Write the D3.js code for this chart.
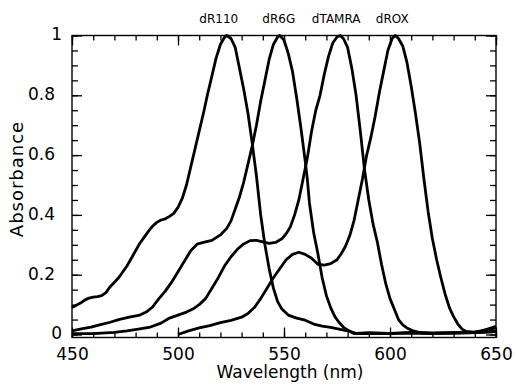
<!DOCTYPE html>
<html>
<head>
<meta charset="utf-8">
<script src="https://cdn.jsdelivr.net/npm/d3@7"></script>
<style>
  body { margin: 0; background: #fff; }
  svg { display: block; }
  text { font-family: "DejaVu Sans", sans-serif; fill: #000; }
</style>
</head>
<body>
<div id="chart"></div>
<script>
// absorbance spectra, [wavelength nm, normalised absorbance]
const dR110 = [
  [450, 0.09], [452, 0.098], [454, 0.105], [456, 0.115], [458, 0.122], [460, 0.125],
  [462, 0.127], [464, 0.13], [466, 0.14], [468, 0.16], [470, 0.175], [472, 0.19],
  [474, 0.21], [476, 0.23], [478, 0.255], [480, 0.28], [482, 0.305], [484, 0.325],
  [486, 0.345], [488, 0.362], [490, 0.375], [492, 0.383], [494, 0.387], [496, 0.395],
  [498, 0.405], [500, 0.425], [502, 0.455], [504, 0.5], [506, 0.56], [508, 0.62],
  [510, 0.68], [512, 0.74], [514, 0.805], [516, 0.865], [518, 0.925], [520, 0.97],
  [522, 0.995], [523, 1.0], [525, 0.99], [527, 0.96], [529, 0.89], [531, 0.82],
  [533, 0.74], [535, 0.64], [537, 0.53], [539, 0.4], [541, 0.3], [543, 0.22],
  [545, 0.155], [547, 0.11], [549, 0.085], [552, 0.065], [556, 0.055], [560, 0.048],
  [564, 0.035], [568, 0.028], [572, 0.024], [576, 0.018], [580, 0.012], [584, 0.004],
  [590, 0.006], [600, 0.004], [610, 0.007], [620, 0.005], [630, 0.006], [640, 0.008],
  [645, 0.014], [650, 0.022]
];
const dR6G = [
  [450, 0.012], [455, 0.02], [459, 0.025], [463, 0.032], [468, 0.041], [472, 0.05],
  [477, 0.058], [482, 0.065], [485, 0.075], [488, 0.092], [491, 0.12], [494, 0.145],
  [497, 0.175], [500, 0.21], [503, 0.245], [506, 0.28], [509, 0.302], [512, 0.308],
  [516, 0.315], [520, 0.333], [523, 0.355], [525, 0.38], [527, 0.42], [529, 0.46],
  [531, 0.51], [533, 0.57], [535, 0.63], [537, 0.7], [539, 0.78], [541, 0.85],
  [543, 0.92], [545, 0.97], [547, 0.995], [548, 1.0], [550, 0.985], [552, 0.94],
  [554, 0.88], [556, 0.79], [558, 0.69], [560, 0.58], [561, 0.52], [562, 0.44],
  [564, 0.34], [566, 0.27], [568, 0.19], [570, 0.13], [572, 0.09], [574, 0.06],
  [576, 0.04], [578, 0.025], [580, 0.015], [583, 0.003], [590, 0.004], [600, 0.003],
  [610, 0.005], [620, 0.004], [630, 0.005], [640, 0.006], [650, 0.01]
];
const dTAMRA = [
  [450, 0.003], [460, 0.003], [470, 0.007], [476, 0.012], [482, 0.019], [487, 0.025],
  [492, 0.038], [496, 0.055], [500, 0.065], [504, 0.075], [507, 0.085], [510, 0.1],
  [513, 0.12], [516, 0.155], [519, 0.19], [522, 0.23], [525, 0.26], [528, 0.285],
  [531, 0.303], [534, 0.314], [537, 0.315], [540, 0.31], [543, 0.305], [546, 0.308],
  [549, 0.32], [551, 0.337], [553, 0.36], [555, 0.4], [557, 0.45], [559, 0.52],
  [561, 0.59], [563, 0.68], [565, 0.75], [567, 0.8], [569, 0.87], [571, 0.93],
  [573, 0.975], [575, 0.995], [576.5, 1.0], [578, 0.99], [580, 0.96], [582, 0.89],
  [584, 0.8], [586, 0.68], [588, 0.55], [590, 0.45], [592, 0.37], [594, 0.31],
  [596, 0.235], [598, 0.17], [600, 0.12], [602, 0.085], [604, 0.05], [606, 0.032],
  [608, 0.022], [611, 0.012], [615, 0.005], [620, 0.004], [630, 0.005], [640, 0.006],
  [650, 0.01]
];
const dROX = [
  [500, 0.0], [505, 0.012], [510, 0.022], [515, 0.03], [520, 0.04], [525, 0.047],
  [530, 0.058], [533, 0.07], [536, 0.09], [539, 0.12], [542, 0.155], [545, 0.19],
  [548, 0.22], [551, 0.25], [554, 0.268], [557, 0.275], [560, 0.268], [563, 0.255],
  [566, 0.235], [569, 0.232], [572, 0.237], [575, 0.25], [577, 0.27], [579, 0.295],
  [581, 0.33], [583, 0.38], [585, 0.45], [587, 0.52], [589, 0.6], [591, 0.66],
  [593, 0.73], [595, 0.81], [597, 0.88], [599, 0.95], [601, 0.99], [602.5, 1.0],
  [604, 0.99], [606, 0.965], [608, 0.91], [610, 0.83], [612, 0.74], [614, 0.64],
  [616, 0.52], [618, 0.41], [620, 0.32], [622, 0.25], [624, 0.19], [626, 0.135],
  [628, 0.09], [630, 0.06], [632, 0.035], [634, 0.018], [636, 0.01], [640, 0.008],
  [643, 0.012], [646, 0.018], [650, 0.027]
];

const seriesNames = ['dR110', 'dR6G', 'dTAMRA', 'dROX'];
const xTicks = [450, 500, 550, 600, 650];
const yTicks = [0, 0.2, 0.4, 0.6, 0.8, 1];
const yTickLabels = ['0', '0.2', '0.4', '0.6', '0.8', '1'];

const width = 516, height = 388;
const plot = { left: 72, right: 496, top: 35.5, bottom: 337.5 };

const svg = d3.select('#chart').append('svg')
    .attr('width', width)
    .attr('height', height);

const x = d3.scaleLinear().domain([450, 650]).range([plot.left, plot.right]);
const y = d3.scaleLinear().domain([-0.01, 1]).range([plot.bottom, plot.top]);

// minor + major ticks, pointing inward, on all four sides
const xMinor = d3.range(450, 651, 10);
const yMinor = d3.range(0, 1.0001, 0.05);

function frameAxis(axis, tr) {
  const g = svg.append('g').attr('transform', tr).call(axis);
  g.select('.domain').remove();
  g.selectAll('line').attr('stroke', '#000').attr('stroke-width', 1.3);
  return g;
}

frameAxis(d3.axisBottom(x).tickValues(xMinor).tickSize(-5).tickFormat(''), `translate(0,${plot.bottom})`);
frameAxis(d3.axisTop(x).tickValues(xMinor).tickSize(-5).tickFormat(''), `translate(0,${plot.top})`);
frameAxis(d3.axisTop(x).tickValues(xTicks).tickSize(-10).tickFormat(''), `translate(0,${plot.top})`);
frameAxis(d3.axisLeft(y).tickValues(yMinor).tickSize(-6).tickFormat(''), `translate(${plot.left},0)`);
frameAxis(d3.axisRight(y).tickValues(yMinor).tickSize(-6).tickFormat(''), `translate(${plot.right},0)`);
frameAxis(d3.axisRight(y).tickValues(yTicks).tickSize(-10).tickFormat(''), `translate(${plot.right},0)`);

const xAxis = frameAxis(
  d3.axisBottom(x).tickValues(xTicks).tickSize(-10).tickPadding(10).tickFormat(d3.format('d')),
  `translate(0,${plot.bottom})`);
xAxis.selectAll('text').attr('font-size', 17).style('font-family', '"DejaVu Sans", sans-serif');

const yAxis = frameAxis(
  d3.axisLeft(y).tickValues(yTicks).tickSize(-10).tickPadding(10).tickFormat((d, i) => yTickLabels[i]),
  `translate(${plot.left},0)`);
yAxis.selectAll('text')
    .attr('font-size', 17)
    .style('font-family', '"DejaVu Sans", sans-serif')
    .attr('dy', '0.26em')
    .attr('x', (d, i) => yTickLabels[i].length > 1 ? -17 : -10);

// plot frame
svg.append('rect')
    .attr('x', plot.left).attr('y', plot.top)
    .attr('width', plot.right - plot.left).attr('height', plot.bottom - plot.top)
    .attr('fill', 'none')
    .attr('stroke', '#000')
    .attr('stroke-width', 1.4);

const line = d3.line()
    .x(d => x(d[0]))
    .y(d => y(d[1]));

const spectra = [dR110, dR6G, dTAMRA, dROX];

svg.append('g').selectAll('path')
    .data(spectra)
    .join('path')
    .attr('d', line)
    .attr('fill', 'none')
    .attr('stroke', '#000')
    .attr('stroke-width', 2.8)
    .attr('stroke-linejoin', 'round');

// dye names above each peak
const labelNudge = [-8, -1, -4, -3];
svg.append('g').selectAll('text')
    .data(spectra)
    .join('text')
    .attr('x', (d, i) => x(d3.greatest(d, p => p[1])[0]) + labelNudge[i])
    .attr('y', 23)
    .attr('text-anchor', 'middle')
    .attr('font-size', 12)
    .text((d, i) => seriesNames[i]);

svg.append('text')
    .attr('x', 290)
    .attr('y', 378)
    .attr('text-anchor', 'middle')
    .attr('font-size', 17)
    .text('Wavelength (nm)');

svg.append('text')
    .attr('transform', 'translate(23,179) rotate(-90)')
    .attr('text-anchor', 'middle')
    .attr('font-size', 18)
    .attr('letter-spacing', 1)
    .text('Absorbance');
</script>
</body>
</html>
